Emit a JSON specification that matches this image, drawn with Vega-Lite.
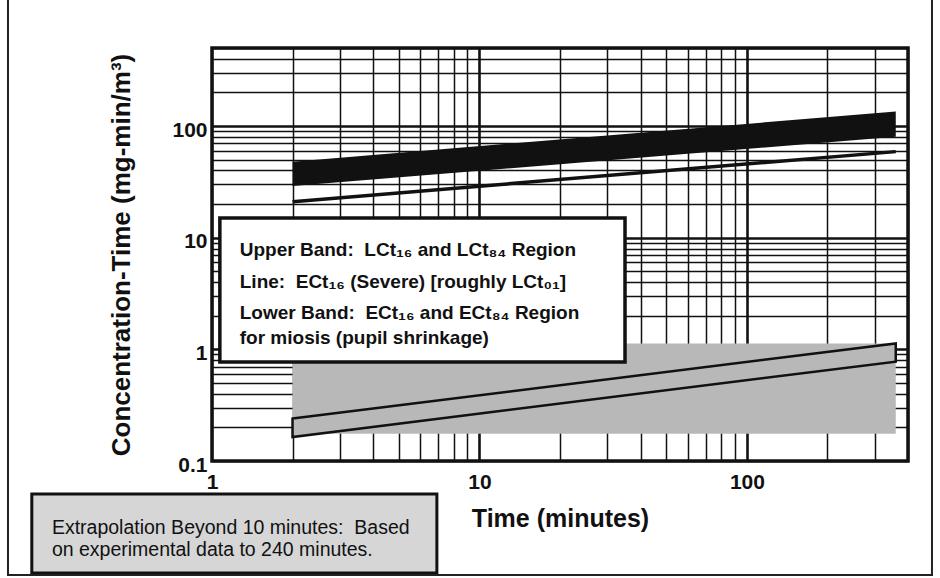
{
  "$schema": "https://vega.github.io/schema/vega-lite/v6.json",
  "width": 696,
  "height": 413,
  "autosize": {"type": "none"},
  "padding": {"left": 212, "top": 48, "right": 32, "bottom": 117},
  "background": "white",
  "config": {"view": {"stroke": null}, "font": "Liberation Sans"},
  "datasets": {
    "upper": [{"t": 2, "c1": 29, "c": 48}, {"t": 360, "c1": 80, "c": 135}],
    "severe": [{"t": 2, "c": 21}, {"t": 360, "c": 59}],
    "grey": [{"t": 2, "t1": 360, "c": 0.175, "c1": 1.13}],
    "lower": [{"t": 2, "c1": 0.164, "c": 0.24}, {"t": 360, "c1": 0.776, "c": 1.13}],
    "legendbox": [{"t": 1.07, "t1": 35, "c": 0.77, "c1": 15}],
    "legendtext": [
      {"t": 1.27, "c": 7.78, "label": "Upper Band:\u00a0 LCt₁₆ and LCt₈₄ Region"},
      {"t": 1.27, "c": 4.04, "label": "Line:\u00a0 ECt₁₆ (Severe) [roughly LCt₀₁]"},
      {"t": 1.27, "c": 2.12, "label": "Lower Band:\u00a0 ECt₁₆ and ECt₈₄ Region"},
      {"t": 1.27, "c": 1.26, "label": "for miosis (pupil shrinkage)"}
    ],
    "notebox": [{"t": 0.212, "t1": 6.93, "c": 0.00992, "c1": 0.0506}],
    "notetext": [
      {"t": 0.252, "c": 0.0251, "label": "Extrapolation Beyond 10 minutes:\u00a0 Based"},
      {"t": 0.252, "c": 0.01594, "label": "on experimental data to 240 minutes."}
    ],
    "frame": [{"t": 1, "t1": 400, "c": 0.1, "c1": 500}],
    "outer": [{"t": 0.1727, "t1": 491.7, "c": 0.00952, "c1": 10550}]
  },
  "encoding": {
    "x": {
      "field": "t", "type": "quantitative",
      "scale": {"type": "log", "domain": [1, 400], "nice": false},
      "axis": {
        "values": [1, 2, 3, 4, 5, 6, 7, 8, 9, 10, 20, 30, 40, 50, 60, 70, 80, 90, 100, 200, 300, 400],
        "labelExpr": "datum.value == 1 ? '1' : datum.value == 10 ? '10' : datum.value == 100 ? '100' : ''",
        "grid": true, "gridColor": "#111111", "gridOpacity": 1,
        "gridWidth": {"condition": {"test": "datum.value == 10 || datum.value == 100", "value": 2.6}, "value": 1.5},
        "ticks": false, "domain": false,
        "labelFontWeight": "bold", "labelFontSize": 21, "labelColor": "#111111",
        "labelPadding": 10, "labelOverlap": false, "labelFlush": false,
        "title": "Time (minutes)", "titleFontSize": 25, "titleFontWeight": "bold",
        "titleColor": "#111111", "titlePadding": 14
      }
    },
    "y": {
      "field": "c", "type": "quantitative",
      "scale": {"type": "log", "domain": [0.1, 500], "nice": false},
      "axis": {
        "values": [0.1, 0.2, 0.3, 0.4, 0.5, 0.6, 0.7, 0.8, 0.9, 1, 2, 3, 4, 5, 6, 7, 8, 9, 10, 20, 30, 40, 50, 60, 70, 80, 90, 100, 200, 300, 400, 500],
        "labelExpr": "datum.value == 0.1 ? '0.1' : datum.value == 1 ? '1' : datum.value == 10 ? '10' : datum.value == 100 ? '100' : ''",
        "grid": true, "gridColor": "#111111", "gridOpacity": 1,
        "gridWidth": {"condition": {"test": "datum.value == 1 || datum.value == 10 || datum.value == 100", "value": 2.6}, "value": 1.5},
        "ticks": false, "domain": false,
        "labelFontWeight": "bold", "labelFontSize": 21, "labelColor": "#111111",
        "labelPadding": 5, "labelOverlap": false, "labelFlush": false, "labelOffset": 4,
        "title": "Concentration-Time (mg-min/m³)", "titleFontSize": 26, "titleFontWeight": "bold",
        "titleColor": "#111111", "titlePadding": 37
      }
    }
  },
  "layer": [
    {
      "data": {"name": "upper"},
      "mark": {"type": "area", "color": "#111111"},
      "encoding": {"y2": {"field": "c1"}}
    },
    {
      "data": {"name": "severe"},
      "mark": {"type": "line", "color": "#111111", "strokeWidth": 3.5},
      "encoding": {}
    },
    {
      "data": {"name": "grey"},
      "mark": {"type": "rect", "fill": "#b8b8b8"},
      "encoding": {"x2": {"field": "t1"}, "y2": {"field": "c1"}}
    },
    {
      "data": {"name": "lower"},
      "mark": {"type": "area", "fill": "#b8b8b8", "stroke": "#111111", "strokeWidth": 2.5},
      "encoding": {"y2": {"field": "c1"}}
    },
    {
      "data": {"name": "legendbox"},
      "mark": {"type": "rect", "fill": "white", "stroke": "#111111", "strokeWidth": 3.5},
      "encoding": {"x2": {"field": "t1"}, "y2": {"field": "c1"}}
    },
    {
      "data": {"name": "legendtext"},
      "mark": {"type": "text", "align": "left", "baseline": "middle", "fontSize": 19, "fontWeight": "bold", "color": "#111111"},
      "encoding": {"text": {"field": "label"}}
    },
    {
      "data": {"name": "notebox"},
      "mark": {"type": "rect", "fill": "#d6d6d6", "stroke": "#111111", "strokeWidth": 3},
      "encoding": {"x2": {"field": "t1"}, "y2": {"field": "c1"}}
    },
    {
      "data": {"name": "notetext"},
      "mark": {"type": "text", "align": "left", "baseline": "middle", "fontSize": 19.5, "color": "#111111"},
      "encoding": {"text": {"field": "label"}}
    },
    {
      "data": {"name": "frame"},
      "mark": {"type": "rect", "fill": null, "stroke": "#111111", "strokeWidth": 3.5},
      "encoding": {"x2": {"field": "t1"}, "y2": {"field": "c1"}}
    },
    {
      "data": {"name": "outer"},
      "mark": {"type": "rect", "fill": null, "stroke": "#222222", "strokeWidth": 2},
      "encoding": {"x2": {"field": "t1"}, "y2": {"field": "c1"}}
    }
  ]
}
